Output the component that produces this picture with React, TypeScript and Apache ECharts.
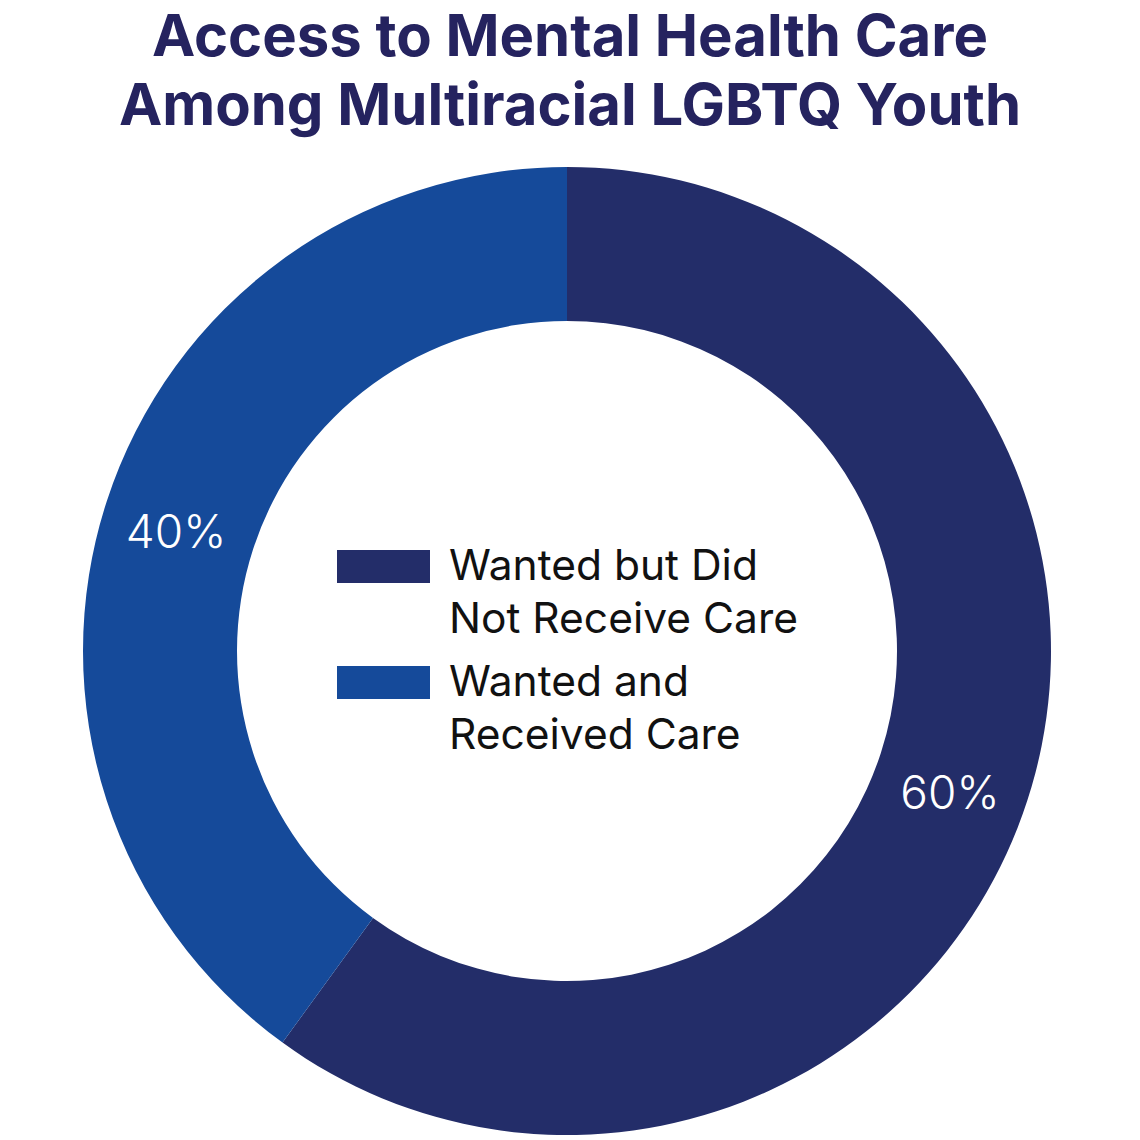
import React, { useEffect, useRef } from "react";
import * as echarts from "echarts";

const titleLines = ["Access to Mental Health Care", "Among Multiracial LGBTQ Youth"];
const categories = ["Wanted but Did Not Receive Care", "Wanted and Received Care"];
const legendLines = [
  ["Wanted but Did", "Not Receive Care"],
  ["Wanted and", "Received Care"],
];
const values = [60, 40];
const colors = ["#232d69", "#154a9a"];

export default function App() {
  const ref = useRef<HTMLDivElement>(null);
  useEffect(() => {
    if (!ref.current) return;
    const chart = echarts.init(ref.current, null, { renderer: "svg" });
    const legendTops = [538, 654];
    const labelShift = [
      [-7, 14],
      [-1, 7],
    ];
    chart.setOption({
      animation: false,
      backgroundColor: "#ffffff",
      title: titleLines.map((t, i) => ({
        text: t,
        left: "center",
        top: 6 + i * 69,
        padding: 0,
        textStyle: {
          fontFamily: "Inter",
          fontWeight: 700,
          fontSize: 58,
          lineHeight: 58,
          color: "#25235f",
        },
      })),
      series: [
        {
          type: "pie",
          center: [567, 651],
          radius: [330, 484],
          startAngle: 90,
          clockwise: true,
          silent: true,
          label: {
            show: true,
            position: "inside",
            formatter: (p: any) => `${p.value}%`,
            color: "#ffffff",
            fontFamily: "Inter",
            fontWeight: 300,
            fontSize: 46,
          },
          labelLayout: (params: any) => ({
            dx: labelShift[params.dataIndex][0],
            dy: labelShift[params.dataIndex][1],
          }),
          labelLine: { show: false },
          itemStyle: { borderWidth: 0 },
          data: categories.map((name, i) => ({
            name,
            value: values[i],
            itemStyle: { color: colors[i] },
          })),
        },
      ],
      graphic: categories.flatMap((name, i) => [
        {
          type: "rect",
          shape: { x: 337, y: legendTops[i] + 12, width: 93, height: 33 },
          style: { fill: colors[i] },
        },
        {
          type: "text",
          x: 449,
          y: legendTops[i],
          style: {
            text: legendLines[i].join("\n"),
            font: "400 42.5px Inter",
            lineHeight: 53,
            fill: "#111111",
            textVerticalAlign: "top",
            verticalAlign: "top",
          },
        },
      ]),
    });
    return () => chart.dispose();
  }, []);
  return (
    <div
      ref={ref}
      style={{ position: "fixed", left: 0, top: 0, width: 1140, height: 1140 }}
    />
  );
}
